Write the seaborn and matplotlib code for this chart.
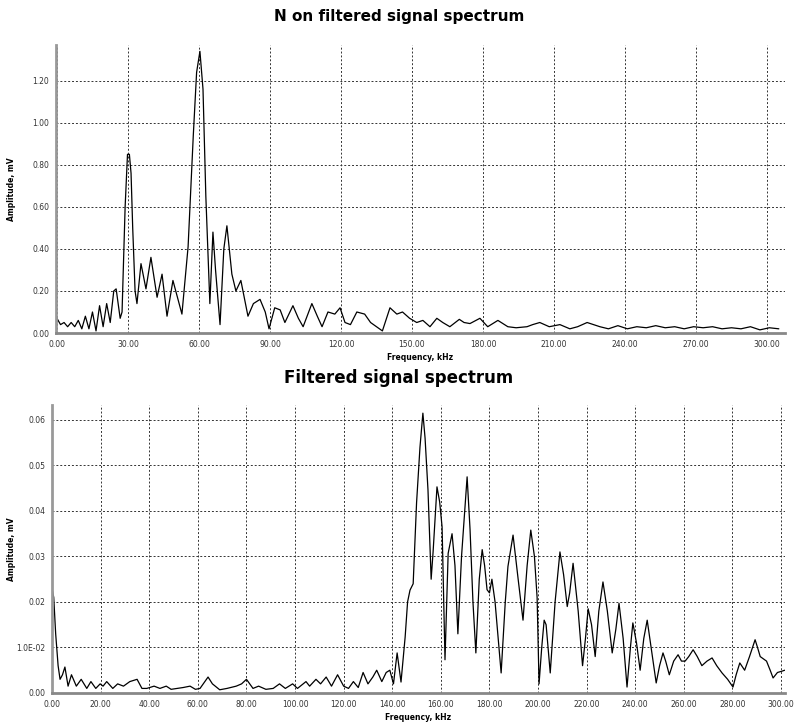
import numpy as np
import pandas as pd
import matplotlib
matplotlib.use("Agg")
import matplotlib.pyplot as plt
import seaborn as sns
from matplotlib.ticker import FixedLocator, FixedFormatter

# ESPECTRO NAO FILTRADO (kHz, mV)
freq_nf = [0, 1.5, 3, 4.5, 6, 7.5, 9, 10.5, 12, 13.5, 15, 16.5, 18, 19.5, 21, 22.5,
           24, 25, 26.7, 27.5, 28.8, 29.8, 30.6, 31.3, 32, 33, 33.8, 35.5, 37.6, 39.7,
           42.3, 44.4, 46.5, 49, 52.8, 55.4, 57.6, 59, 60.4, 61.7, 62.9, 64.6, 65.9,
           67, 68.9, 70.5, 71.8, 73.9, 75.6, 77.7, 80.7, 83, 85.8, 88, 89.6, 92, 94.3,
           96.3, 99.7, 102, 104, 107.7, 110, 112, 114.5, 117.4, 119.6, 121.7, 124,
           126.7, 130, 132.5, 135, 137.5, 140.7, 143.6, 146, 149, 152, 154.6, 157.6,
           160.5, 163, 166, 170, 172, 174.5, 178.7, 182, 186.3, 190.5, 194, 198.6,
           201, 204, 208, 212.5, 216.7, 220, 224, 229.4, 233, 237, 241, 245, 249,
           253, 257, 261, 265, 269, 273, 277, 281, 285, 289, 293, 297, 301, 305]
amp_nf = [0.07, 0.04, 0.05, 0.03, 0.05, 0.03, 0.06, 0.02, 0.08, 0.02, 0.10, 0.01,
          0.13, 0.03, 0.14, 0.05, 0.20, 0.21, 0.07, 0.10, 0.60, 0.85, 0.85, 0.76,
          0.50, 0.20, 0.14, 0.33, 0.21, 0.36, 0.17, 0.28, 0.08, 0.25, 0.09, 0.41,
          0.94, 1.24, 1.34, 1.16, 0.65, 0.14, 0.48, 0.30, 0.04, 0.40, 0.51, 0.28,
          0.20, 0.25, 0.08, 0.14, 0.16, 0.10, 0.02, 0.12, 0.11, 0.05, 0.13, 0.07,
          0.03, 0.14, 0.08, 0.03, 0.10, 0.09, 0.12, 0.05, 0.04, 0.10, 0.09, 0.05,
          0.03, 0.01, 0.12, 0.09, 0.10, 0.07, 0.05, 0.06, 0.03, 0.07, 0.05, 0.03,
          0.065, 0.05, 0.045, 0.07, 0.03, 0.06, 0.03, 0.025, 0.03, 0.04, 0.05, 0.03,
          0.04, 0.02, 0.03, 0.05, 0.03, 0.02, 0.035, 0.02, 0.03, 0.025, 0.035,
          0.025, 0.03, 0.02, 0.03, 0.025, 0.03, 0.02, 0.025, 0.02, 0.03, 0.015,
          0.025, 0.02]

# ESPECTRO FILTRADO (kHz, mV)
freq_f = [0, 0.7, 1.5, 2.5, 3.3, 4.3, 5.3, 6.6, 8, 10, 12, 14.3, 16, 18, 19.8, 21,
          22.5, 25, 27, 29.4, 32, 35, 37, 39, 42, 44.4, 47, 49, 51.4, 54, 56.8, 59,
          60.9, 64.2, 66, 69, 72, 75.8, 78, 80, 82.7, 85, 88, 91, 93.6, 96, 99, 101,
          104.5, 106, 108.6, 110.5, 112.8, 115, 117.5, 120, 122, 124, 126, 128, 130,
          132, 133.6, 135.7, 137.5, 139, 140.5, 142, 143.6, 145.3, 146.3, 147.3,
          148.6, 150, 151.4, 152.6, 153.5, 154.7, 156, 156.8, 158.4, 159.5, 160.5,
          161.7, 163, 164.6, 165.8, 167, 168.5, 170.8, 172, 173.2, 174.4, 175.8, 177,
          178, 179, 180, 181, 182.3, 184.8, 186.5, 187.6, 189.7, 191.8, 193.8, 195.5,
          197, 198.5, 199.6, 200.4, 201.5, 202.5, 203.3, 205, 207, 209, 210.5, 212,
          213, 214.4, 216.5, 218.3, 219.5, 220.6, 222, 223.5, 225, 226.7, 228.5,
          230.5, 232, 233.3, 235, 236.6, 238, 239, 240.5, 242, 243.5, 244.9, 246.5,
          248.6, 250, 251.4, 252.5, 254, 255.8, 257.6, 259, 260.5, 262, 263.8, 265.5,
          267.4, 269.5, 271.6, 273.5, 275.7, 278, 280.2, 281.5, 283, 285, 287, 289.3,
          290.3, 291.4, 292.7, 294, 295.5, 296.7, 298.5, 300.4, 301.5]
amp_f = [0.023, 0.021, 0.013, 0.006, 0.003, 0.004, 0.0057, 0.0015, 0.004, 0.0015,
         0.003, 0.001, 0.0025, 0.001, 0.002, 0.0015, 0.0025, 0.001, 0.002, 0.0015,
         0.0025, 0.003, 0.001, 0.001, 0.0015, 0.001, 0.0015, 0.0008, 0.001, 0.0012,
         0.0015, 0.0008, 0.001, 0.0035, 0.002, 0.0007, 0.001, 0.0015, 0.002, 0.003,
         0.001, 0.0015, 0.0008, 0.001, 0.002, 0.001, 0.002, 0.001, 0.0025, 0.0015,
         0.003, 0.002, 0.0035, 0.0015, 0.004, 0.0015, 0.001, 0.0025, 0.0012, 0.0045,
         0.002, 0.0035, 0.005, 0.0025, 0.0045, 0.005, 0.002, 0.0088, 0.0024, 0.0123,
         0.020, 0.0226, 0.024, 0.0418, 0.054, 0.0615, 0.056, 0.0446, 0.025, 0.031,
         0.0453, 0.042, 0.0365, 0.0073, 0.0307, 0.035, 0.028, 0.013, 0.030, 0.0475,
         0.036, 0.020, 0.0088, 0.025, 0.0315, 0.028, 0.0227, 0.022, 0.025, 0.020,
         0.0044, 0.020, 0.0278, 0.0347, 0.025, 0.016, 0.028, 0.0358, 0.030, 0.021,
         0.002, 0.010, 0.016, 0.015, 0.0044, 0.020, 0.031, 0.026, 0.019, 0.022,
         0.0285, 0.018, 0.006, 0.012, 0.0185, 0.015, 0.008, 0.018, 0.0244, 0.018,
         0.0088, 0.014, 0.0197, 0.012, 0.0013, 0.010, 0.0154, 0.011, 0.005, 0.012,
         0.016, 0.010, 0.0022, 0.006, 0.0088, 0.007, 0.004, 0.007, 0.0084, 0.007,
         0.007, 0.008, 0.0095, 0.008, 0.006, 0.007, 0.0077, 0.006, 0.0044, 0.003,
         0.0013, 0.004, 0.0066, 0.005, 0.008, 0.0117, 0.010, 0.008, 0.0075, 0.007,
         0.005, 0.0033, 0.0045, 0.0048, 0.005]

xticks_nf = [0, 30, 60, 90, 120, 150, 180, 210, 240, 270, 300]
yticks_nf = [0.0, 0.2, 0.4, 0.6, 0.8, 1.0, 1.2]
xticks_f = [0, 20, 40, 60, 80, 100, 120, 140, 160, 180, 200, 220, 240, 260, 280, 300]
yticks_f = [0.0, 0.01, 0.02, 0.03, 0.04, 0.05, 0.06]
ylabels_f = ["0.00", "1.0E-02", "0.02", "0.03", "0.04", "0.05", "0.06"]

df_nf = pd.DataFrame({"freq": freq_nf, "amp": amp_nf})
df_f = pd.DataFrame({"freq": freq_f, "amp": amp_f})

sns.set_style("white")
plt.rcParams["font.family"] = ["DejaVu Sans"]

fig = plt.figure(figsize=(7.98, 7.26), dpi=100)
ax1 = fig.add_axes([0.0702, 0.5413, 0.9135, 0.3967])
ax2 = fig.add_axes([0.0652, 0.0455, 0.9185, 0.3967])


def estilo(ax, xt, yt, ylab, xlim, ylim, ylab_x):
    ax.set_xlim(*xlim)
    ax.set_ylim(*ylim)
    ax.xaxis.set_major_locator(FixedLocator(xt))
    ax.xaxis.set_major_formatter(FixedFormatter([f"{v:.2f}" for v in xt]))
    ax.yaxis.set_major_locator(FixedLocator(yt))
    ax.yaxis.set_major_formatter(FixedFormatter(ylab))
    ax.grid(True, color="#333333", linestyle=(0, (2, 2)), linewidth=0.7)
    for s in ["top", "right"]:
        ax.spines[s].set_visible(False)
    ax.spines["left"].set_color("#999999")
    ax.spines["left"].set_linewidth(2)
    ax.spines["bottom"].set_color("#888888")
    ax.spines["bottom"].set_linewidth(2)
    ax.tick_params(length=0, labelsize=5.5, labelcolor="#333333", pad=5)
    ax.set_xlabel("Frequency, kHz", fontsize=5.5, fontweight="bold", labelpad=3,
                  color="black")
    ax.set_ylabel("Amplitude, mV", fontsize=5.5, fontweight="bold", color="black")
    ax.yaxis.set_label_coords(ylab_x, 0.5)


sns.lineplot(data=df_nf, x="freq", y="amp", ax=ax1, color="black", linewidth=0.9)
estilo(ax1, xticks_nf, yticks_nf, [f"{v:.2f}" for v in yticks_nf],
       (-0.4, 307.6), (0, 1.37), -0.055)

sns.lineplot(data=df_f, x="freq", y="amp", ax=ax2, color="black", linewidth=0.9)
estilo(ax2, xticks_f, yticks_f, ylabels_f,
       (0, 301.6), (0, 0.0633), -0.049)

fig.text(0.5, 1 - 17 / 726, "N on filtered signal spectrum", ha="center", va="center",
         fontsize=11, fontweight="bold", color="black")
fig.text(0.5, 1 - 378 / 726, "Filtered signal spectrum", ha="center", va="center",
         fontsize=12, fontweight="bold", color="black")

fig.savefig("out.png", dpi=100)
